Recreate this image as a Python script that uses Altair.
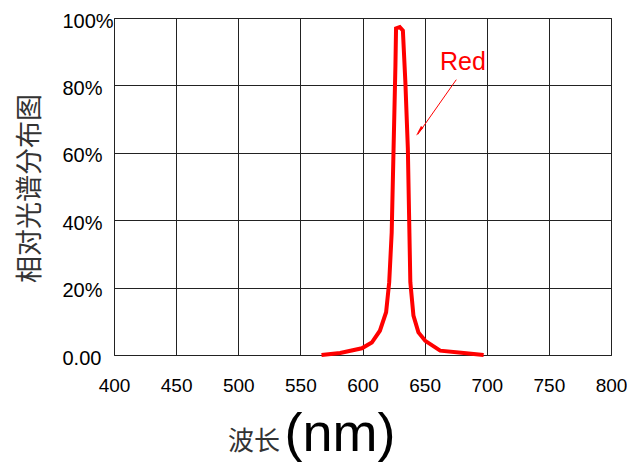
import altair as alt
import pandas as pd

# Spectrum
wavelength = [567, 582, 599.5, 607.5, 614, 619, 621.5, 623.5, 625, 626.5, 627,
              630, 632.5, 634.5, 636.5, 637.5, 638.5, 641, 645, 650.5, 662.5,
              681.5, 697.5]
relative = [0, 0.6, 2.0, 3.7, 7.2, 12.7, 21.6, 36.4, 61.2, 85.9, 96.9,
            97.3, 96.3, 81.0, 61.2, 41.4, 21.6, 11.7, 6.7, 4.2, 1.3,
            0.6, 0]

x_ticks = [400, 450, 500, 550, 600, 650, 700, 750, 800]
y_ticks = [0, 20, 40, 60, 80, 100]

# Annotation "Red" with arrow
label_text = ["Red"]
label_x = [662.4]
label_y = [84.5]
arrow_x = [675.5]
arrow_y = [81.7]
arrow_x2 = [644.4]
arrow_y2 = [65.4]
head_x = [646.4]
head_y = [66.8]

spec = pd.DataFrame({"wl": wavelength, "rel": relative})

x_scale = alt.Scale(domain=[400, 800], nice=False, zero=False)
y_scale = alt.Scale(domain=[0, 100], nice=False)

line = alt.Chart(spec).mark_line(color="#ff0000", strokeWidth=4).encode(
    x=alt.X("wl:Q", scale=x_scale,
            axis=alt.Axis(values=x_ticks, title=None, labelPadding=21,
                          labelBaseline="top", labelAlign="center",
                          labelFontSize=19)),
    y=alt.Y("rel:Q", scale=y_scale,
            axis=alt.Axis(values=y_ticks, title="相对光谱分布图",
                          labelExpr="datum.value == 0 ? '0.00' : datum.value + '%'",
                          labelAlign="left", labelPadding=52, labelOffset=3,
                          labelBaseline="middle",
                          titleFont="Noto Sans CJK SC",
                          titleFontWeight="normal",
                          titleFontSize=27, titleColor="#333",
                          titleX=-84, titleY=170, titleAngle=270,
                          titleAlign="center", titleBaseline="middle")),
)

ann = pd.DataFrame({"t": label_text, "x": label_x, "y": label_y})
red_text = alt.Chart(ann).mark_text(
    color="#ff0000", font="Liberation Sans", fontSize=25, align="left",
    baseline="alphabetic").encode(x="x:Q", y="y:Q", text="t:N")

arr = pd.DataFrame({"x": arrow_x, "y": arrow_y, "x2": arrow_x2, "y2": arrow_y2})
arrow = alt.Chart(arr).mark_rule(color="#ff0000", strokeWidth=1).encode(
    x="x:Q", y="y:Q", x2="x2:Q", y2="y2:Q")

hd = pd.DataFrame({"x": head_x, "y": head_y})
head = alt.Chart(hd).mark_point(shape="wedge", filled=True, color="#ff0000",
                                size=160, angle=215, opacity=1).encode(
    x="x:Q", y="y:Q")

xt = pd.DataFrame({"t": ["波长"]})
x_title_cn = alt.Chart(xt).mark_text(
    font="Noto Sans CJK SC", fontSize=26, color="#333",
    align="center", baseline="middle").encode(
    x=alt.value(140), y=alt.value(424), text="t:N")

xn = pd.DataFrame({"t": ["(nm)"]})
x_title_nm = alt.Chart(xn).mark_text(
    font="Liberation Sans", fontSize=54, color="black",
    align="center", baseline="alphabetic").encode(
    x=alt.value(226), y=alt.value(433), text="t:N")

chart = alt.layer(line, arrow, head, red_text, x_title_cn, x_title_nm).properties(
    width=497, height=337,
    autosize=alt.AutoSizeParams(type="none"),
    padding={"left": 106, "top": 10, "right": 16, "bottom": 108},
).configure_view(
    stroke="#222", strokeWidth=1
).configure_axis(
    grid=True, gridColor="#222", gridWidth=1, gridOpacity=1,
    domain=False, ticks=False, tickSize=0,
    labelFont="Liberation Sans", labelFontSize=20, labelColor="black",
)

chart.save("out.html", embed_options={"renderer": "svg", "actions": False})
